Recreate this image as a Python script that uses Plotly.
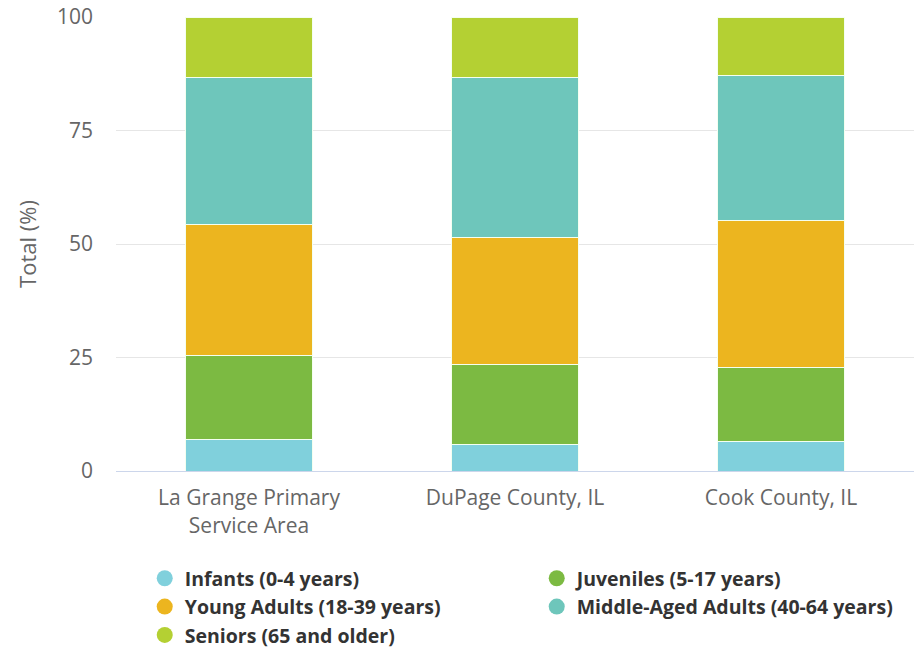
import plotly.graph_objects as go

categories = ["La Grange Primary<br>Service Area", "DuPage County, IL", "Cook County, IL"]
series_names = ["Infants (0-4 years)", "Juveniles (5-17 years)", "Young Adults (18-39 years)",
                "Middle-Aged Adults (40-64 years)", "Seniors (65 and older)"]
infants = [7.0, 5.9, 6.6]
juveniles = [18.5, 17.6, 16.1]
young_adults = [28.8, 28.0, 32.5]
middle_aged = [32.4, 35.1, 31.9]
seniors = [13.3, 13.4, 12.9]
values = [infants, juveniles, young_adults, middle_aged, seniors]
colors = ["#80d0dc", "#7cba42", "#ecb51f", "#6ec6bb", "#b4d033"]
y_ticks = [0, 25, 50, 75, 100]

FONT = "Open Sans"
fig = go.Figure()
for name, vals, col in zip(series_names, values, colors):
    fig.add_trace(go.Bar(x=categories, y=vals, name=name, marker=dict(color=col, line=dict(color="#f4fff0", width=1)),
                         showlegend=False, legendgroup=name))
for name, col in zip(series_names, colors):
    fig.add_trace(go.Scatter(x=[None], y=[None], mode="markers", name=name, legendgroup=name,
                             marker=dict(color=col, size=17, symbol="circle")))

fig.update_layout(
    width=919, height=649,
    margin=dict(l=116, r=5, t=17, b=178, autoexpand=False),
    barmode="stack", bargap=0.52,
    plot_bgcolor="white", paper_bgcolor="white",
    font=dict(family=FONT, color="#666666", size=18),
    showlegend=True,
    legend=dict(orientation="h", x=0.036, y=-0.194, xanchor="left", yanchor="top",
                entrywidth=347, entrywidthmode="pixels", traceorder="normal",
                font=dict(family=FONT, size=19.5, color="#333333", weight="bold"),
                itemclick=False),
)
fig.update_yaxes(range=[0, 100], tickvals=y_ticks, gridcolor="#e6e6e6", gridwidth=1,
                 zeroline=False, showline=False, ticklabelstandoff=22,
                 tickfont=dict(size=21, color="#666666"),
                 title=dict(text="Total (%)", font=dict(size=22, color="#666666"), standoff=14))
fig.update_xaxes(showline=True, linecolor="#ccd6eb", linewidth=1, ticks="",
                 tickfont=dict(size=21, color="#666666"), ticklabelstandoff=8)
fig.write_html("out.html")
